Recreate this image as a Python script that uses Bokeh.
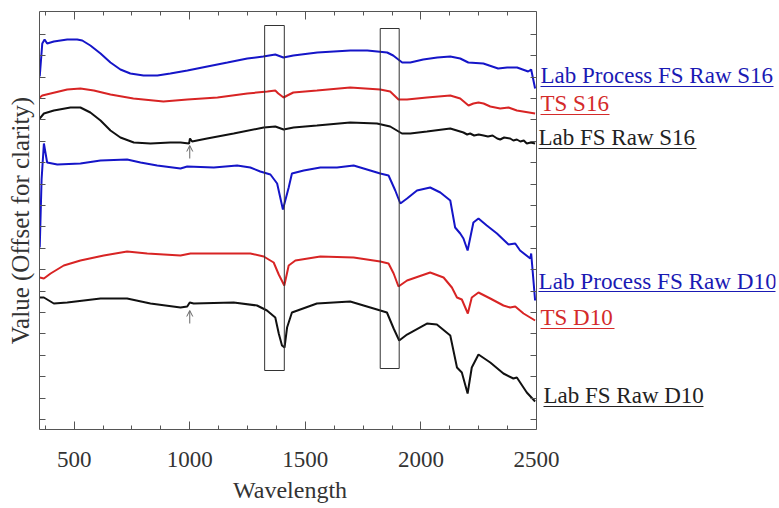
from bokeh.plotting import figure
from bokeh.models import (LinearAxis, FixedTicker, Arrow, OpenHead, BoxAnnotation,
                          CustomLabelingPolicy, ColumnDataSource)
from bokeh.core.properties import value
from bokeh.embed import file_html
from bokeh.resources import INLINE

# ---------------- data ----------------
wl_blue_s16 = [351, 362, 372, 383, 412, 470, 513, 535, 570, 614, 657, 700, 743, 800, 860, 916, 990, 1076,
               1163, 1249, 1318, 1370, 1405, 1448, 1552, 1695, 1768, 1854, 1880, 1919, 1954, 2010, 2071,
               2127, 2170, 2205, 2270, 2334, 2373, 2416, 2464, 2477, 2494]
val_blue_s16 = [353, 386, 390, 386, 388, 390, 390, 389, 384, 376, 367, 360, 356, 354, 354, 356, 359, 363,
                367, 371, 373, 375, 372, 374, 377, 379, 379, 377, 374, 367, 367, 370, 372,
                373, 371, 367, 366, 361, 362, 362, 358, 360, 341]

wl_red_s16 = [351, 362, 398, 470, 527, 585, 657, 756, 886, 990, 1120, 1249, 1336, 1370, 1383, 1406, 1422,
              1448, 1550, 1694, 1824, 1867, 1903, 1940, 2026, 2127, 2170, 2206, 2227, 2249, 2271, 2300,
              2343, 2379, 2415, 2494]
val_red_s16 = [332, 334, 336, 340, 341, 339, 335, 331, 328, 330, 332, 336, 338, 339, 336, 332, 334,
               337, 339, 342, 340, 338, 330, 330, 332, 334, 331, 324, 326, 327, 326, 323,
               321, 322, 319, 316]

wl_black_s16 = [351, 369, 412, 484, 527, 570, 614, 657, 700, 758, 830, 916, 960, 997, 1001, 1010, 1075,
                1190, 1320, 1370, 1406, 1449, 1550, 1694, 1810, 1867, 1918, 1954, 2026, 2127, 2184, 2200,
                2213, 2230, 2250, 2271, 2290, 2310, 2330, 2343, 2360, 2386, 2400, 2415, 2430, 2445, 2458,
                2475, 2494]
val_black_s16 = [311, 316, 319, 322, 322, 317, 309, 299, 292, 287, 286, 287, 287, 286, 291, 288, 291,
                 296, 302, 303, 300, 302, 304, 307, 306, 303, 296, 296, 298, 301, 297, 295,
                 296, 294, 295, 294, 293, 294, 291, 290, 292, 291, 289, 290, 288, 289, 286,
                 287, 286]

wl_blue_d10 = [351, 359, 369, 383, 427, 527, 614, 729, 787, 859, 960, 989, 1104, 1205, 1262, 1305, 1349,
               1378, 1403, 1428, 1442, 1493, 1565, 1637, 1709, 1781, 1824, 1860, 1889, 1911, 1940, 1983,
               2040, 2084, 2127, 2148, 2170, 2184, 2202, 2227, 2249, 2285, 2329, 2379, 2408, 2429, 2473,
               2477, 2494]
val_blue_d10 = [182, 250, 286, 267, 265, 266, 269, 270, 267, 264, 261, 263, 262, 264, 262, 258, 255,
                246, 220, 242, 256, 259, 262, 262, 264, 259, 256, 254, 239, 226, 231, 239,
                242, 237, 229, 202, 196, 191, 179, 207, 211, 204, 196, 185, 186, 179, 171,
                176, 129]

wl_red_d10 = [351, 369, 398, 455, 527, 628, 729, 816, 960, 1003, 1118, 1262, 1320, 1363, 1385, 1409, 1428,
              1457, 1565, 1709, 1824, 1860, 1882, 1903, 1940, 2040, 2098, 2134, 2156, 2177, 2203, 2220,
              2249, 2300, 2357, 2386, 2408, 2444, 2494]
val_red_d10 = [152, 151, 156, 164, 169, 174, 178, 176, 174, 176, 176, 176, 173, 167, 155, 144, 164,
               169, 173, 172, 168, 166, 156, 143, 149, 157, 152, 142, 132, 130, 116, 132,
               137, 131, 124, 122, 123, 116, 109]

wl_black_d10 = [351, 369, 412, 470, 614, 729, 830, 960, 989, 1000, 1017, 1190, 1291, 1334, 1370, 1385,
                1399, 1410, 1421, 1442, 1550, 1694, 1810, 1853, 1882, 1906, 1940, 2026, 2069, 2127, 2156,
                2177, 2202, 2220, 2249, 2300, 2357, 2400, 2415, 2458, 2494]
val_black_d10 = [132, 132, 126, 127, 131, 131, 126, 122, 123, 127, 126, 127, 124, 119, 112, 96,
                 84, 82, 102, 117, 126, 128, 120, 117, 101, 89, 95, 106, 105, 94, 62,
                 57, 36, 62, 75, 67, 56, 51, 52, 37, 28]

x_ticks = [500, 1000, 1500, 2000, 2500]
x_minor = [375, 625, 750, 875, 1125, 1250, 1375, 1625, 1750, 1875, 2125, 2250, 2375]
y_ticks = [10 + 21.4 * k for k in range(19)]

# highlighted absorption windows (left, right, bottom, top)
windows = [(1324, 1409, 59, 404), (1824, 1906, 61, 401)]
# small arrows marking the detector step at 1000 nm (x, y_start, y_end)
step_marks = [(1000, 271, 284), (1000, 106, 119)]

# series labels (to the right of the boxed plot area)
label_text = ["Lab Process FS Raw S16", "TS S16", "Lab FS Raw S16",
              "Lab Process FS Raw D10", "TS  D10", "Lab FS Raw D10"]
label_color = ["#1a1ab4", "#d42a2a", "#222222", "#1a1ab4", "#d42a2a", "#222222"]
label_base = [346, 318, 284, 141, 104, 26]      # text baseline, in value units
label_px = [540, 540, 538, 538, 540, 543]       # left edge, canvas px
label_size = [23, 23, 23, 23.2, 23, 23]
label_width = [233, 69, 158, 238, 74, 160]      # underline length, px

BLUE = "#1515c8"
RED = "#d82424"
BLACK = "#111111"
FONT = "Liberation Serif"
AX = "#555555"
TXT = "#333333"

W, H = 779, 508
LEFT, TOP, RIGHT, BOTTOM = 39, 11, 4, 79
X0, X1 = 350, 2500
BOX_RIGHT_PX = 536                               # canvas px of the right edge of the box
scale = (X1 - X0) / (BOX_RIGHT_PX - LEFT)        # wavelength units per px
x_end = X0 + (W - LEFT - RIGHT) * scale

def px_to_wl(px):
    return X0 + (px - LEFT) * scale

no_labels = CustomLabelingPolicy(code="""
const ids = [...indices]
for (const i of ids) indices.unset(i)
return indices
""")

p = figure(width=W, height=H, x_range=(X0, x_end), y_range=(0, 418),
           output_backend="svg", toolbar_location=None,
           min_border_left=LEFT, min_border_right=RIGHT, min_border_top=TOP, min_border_bottom=BOTTOM)
p.grid.visible = False
p.outline_line_color = None

series = [
    (wl_blue_s16, val_blue_s16, BLUE), (wl_red_s16, val_red_s16, RED), (wl_black_s16, val_black_s16, BLACK),
    (wl_blue_d10, val_blue_d10, BLUE), (wl_red_d10, val_red_d10, RED), (wl_black_d10, val_black_d10, BLACK),
]
for xs, ys, c in series:
    p.line(xs, ys, line_color=c, line_width=2)

for l, r, b, t in windows:
    p.add_layout(BoxAnnotation(left=l, right=r, bottom=b, top=t, fill_alpha=0,
                               line_color="#333333", line_alpha=1, line_width=1))

for x, y0, y1 in step_marks:
    p.add_layout(Arrow(x_start=x, y_start=y0, x_end=x, y_end=y1, line_color="#666666", line_width=1,
                       end=OpenHead(size=6, line_color="#666666", line_width=1)))

# series labels with underlines
src = ColumnDataSource(dict(
    x=[px_to_wl(v) for v in label_px],
    x1=[px_to_wl(v + w) for v, w in zip(label_px, label_width)],
    y=[b + float(s) * 0.33 for b, s in zip(label_base, label_size)],
    yu=[b - 3 for b in label_base],
    text=label_text, color=label_color, size=[f"{s}px" for s in label_size],
))
p.text(x="x", y="y", text="text", text_color="color", text_font=value(FONT),
       text_font_size="size", text_baseline="middle", text_align="left", source=src)
p.segment(x0="x", y0="yu", x1="x1", y1="yu", line_color="color", line_width=1.2, source=src)

# bottom axis (numbers)
xa = p.xaxis[0]
xa.bounds = (X0, X1)
xa.ticker = FixedTicker(ticks=x_ticks, minor_ticks=x_minor)
xa.major_label_text_font = FONT
xa.major_label_text_font_size = "23px"
xa.major_label_text_color = TXT
xa.major_label_standoff = 22
xa.major_tick_in = 8
xa.major_tick_out = 0
xa.minor_tick_in = 4
xa.minor_tick_out = 0
xa.axis_line_color = AX
xa.major_tick_line_color = AX
xa.minor_tick_line_color = AX

# x-axis title, centred under the boxed area (X0..X1)
title_at = round(px_to_wl((LEFT + BOX_RIGHT_PX) / 2 + 2))
xt = LinearAxis(ticker=FixedTicker(ticks=[title_at], minor_ticks=[]),
                major_label_overrides={title_at: "Wavelength"},
                major_label_text_font=FONT, major_label_text_font_size="24px",
                major_label_text_color=TXT, major_label_standoff=7,
                major_tick_in=0, major_tick_out=0, minor_tick_in=0, minor_tick_out=0,
                axis_line_color=None, major_tick_line_color=None, minor_tick_line_color=None)
p.add_layout(xt, "below")

top = LinearAxis(ticker=FixedTicker(ticks=x_ticks, minor_ticks=x_minor), bounds=(X0, X1),
                 major_tick_in=8, major_tick_out=0, minor_tick_in=4, minor_tick_out=0,
                 major_label_text_font_size="1px", major_label_standoff=0,
                 major_label_policy=no_labels,
                 axis_line_color=AX, major_tick_line_color=AX, minor_tick_line_color=AX)
p.add_layout(top, "above")

ya = p.yaxis[0]
ya.ticker = FixedTicker(ticks=y_ticks, minor_ticks=[])
ya.axis_label = "Value (Offset for clarity)"
ya.axis_label_text_font = FONT
ya.axis_label_text_font_size = "25px"
ya.axis_label_text_font_style = "normal"
ya.axis_label_text_color = TXT
ya.axis_label_standoff = 0
ya.major_label_text_font_size = "1px"
ya.major_label_standoff = 0
ya.major_label_policy = no_labels
ya.major_tick_in = 6
ya.major_tick_out = 0
ya.axis_line_color = AX
ya.major_tick_line_color = AX

right = LinearAxis(ticker=FixedTicker(ticks=y_ticks, minor_ticks=[]), fixed_location=X1,
                   major_tick_in=6, major_tick_out=0, minor_tick_in=0, minor_tick_out=0,
                   major_label_text_font_size="1px", major_label_standoff=0,
                   major_label_policy=no_labels,
                   axis_line_color=AX, major_tick_line_color=AX)
p.add_layout(right, "right")

open("out.html", "w").write(file_html(p, INLINE))
